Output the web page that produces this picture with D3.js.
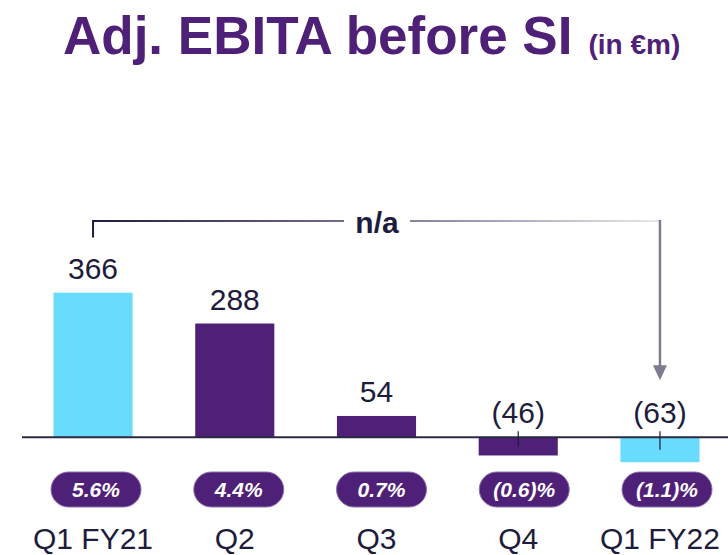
<!DOCTYPE html>
<html>
<head>
<meta charset="utf-8">
<script src="https://cdn.jsdelivr.net/npm/d3@7"></script>
<style>
  html, body { margin: 0; padding: 0; background: #fff; }
  svg { display: block; font-family: "Liberation Sans", Arial, sans-serif; }
</style>
</head>
<body>
<svg id="chart" width="728" height="555"></svg>
<script>
// data
const categories = ["Q1 FY21", "Q2", "Q3", "Q4", "Q1 FY22"];
const values = [366, 288, 54, -46, -63];
const valueLabels = ["366", "288", "54", "(46)", "(63)"];
const marginLabels = ["5.6%", "4.4%", "0.7%", "(0.6)%", "(1.1)%"];
const comparison = ["Q1 FY21", "Q1 FY22", "n/a"];

const purple = "#4f2077",
      cyan = "#69dcfe",
      ink = "#1e1c3c";

const svg = d3.select("#chart");
const data = categories.map((c, i) => ({
  cat: c, value: values[i], label: valueLabels[i], margin: marginLabels[i]
}));

const x = d3.scaleBand()
    .domain(categories)
    .range([53.5, 699.5])
    .paddingInner(0.442)
    .paddingOuter(0);
const xPill = d3.scalePoint()
    .domain(categories)
    .range([96, 667]);
const y = d3.scaleLinear()
    .domain([0, d3.max(values)])
    .range([437.3, 292.7]);

const cx = d => x(d) + x.bandwidth() / 2;
const barColor = d => d.cat.startsWith("Q1") ? cyan : purple;

// title
const title = svg.append("text")
    .attr("x", 63)
    .attr("y", 54)
    .attr("fill", purple)
    .attr("font-weight", "bold");
title.append("tspan")
    .attr("font-size", 53)
    .text("Adj. EBITA before SI");
title.append("tspan")
    .attr("font-size", 28)
    .attr("dx", 16)
    .text("(in €m)");

// bars
svg.append("g").selectAll("rect")
  .data(data)
  .join("rect")
    .attr("x", d => x(d.cat))
    .attr("y", d => y(Math.max(0, d.value)))
    .attr("width", x.bandwidth())
    .attr("height", d => Math.abs(y(d.value) - y(0)))
    .attr("fill", barColor);

// zero line
svg.append("line")
    .attr("x1", 22)
    .attr("x2", 728)
    .attr("y1", y(0))
    .attr("y2", y(0))
    .attr("stroke", "#2b2940")
    .attr("stroke-width", 2);

// small leaders on negative bars
svg.append("g").selectAll("line")
  .data(data.filter(d => d.value < 0))
  .join("line")
    .attr("x1", d => cx(d.cat))
    .attr("x2", d => cx(d.cat))
    .attr("y1", y(0) - 6)
    .attr("y2", d => (y(0) + y(d.value)) / 2)
    .attr("stroke", ink)
    .attr("stroke-width", 1.2);

// value labels
svg.append("g").selectAll("text")
  .data(data)
  .join("text")
    .attr("x", d => cx(d.cat))
    .attr("y", d => y(Math.max(0, d.value)) - 14)
    .attr("text-anchor", "middle")
    .attr("font-size", 30)
    .attr("fill", ink)
    .text(d => d.label);

// margin pills
const pills = svg.append("g").selectAll("g")
  .data(data)
  .join("g")
    .attr("transform", d => `translate(${xPill(d.cat)},489.5)`);
pills.append("rect")
    .attr("x", -45)
    .attr("y", -17.5)
    .attr("width", 90)
    .attr("height", 35)
    .attr("rx", 17.5)
    .attr("fill", purple)
    .attr("stroke", "#8d72ab")
    .attr("stroke-width", 1);
pills.append("text")
    .attr("y", 7)
    .attr("text-anchor", "middle")
    .attr("font-size", 21)
    .attr("font-weight", "bold")
    .attr("font-style", "italic")
    .attr("fill", "#fff")
    .text(d => d.margin);

// category labels
svg.append("g").selectAll("text")
  .data(data)
  .join("text")
    .attr("x", d => cx(d.cat))
    .attr("y", 549)
    .attr("text-anchor", "middle")
    .attr("font-size", 30)
    .attr("fill", ink)
    .text(d => d.cat);

// comparison bracket
const x0 = cx(comparison[0]),
      x1 = cx(comparison[1]),
      yTop = 221,
      tipY = y(0) - 57;

const grad = svg.append("defs").append("linearGradient")
    .attr("id", "fade")
    .attr("gradientUnits", "userSpaceOnUse")
    .attr("x1", x0).attr("x2", x1)
    .attr("y1", 0).attr("y2", 0);
grad.append("stop").attr("offset", 0).attr("stop-color", "#1f1d45");
grad.append("stop").attr("offset", 0.6).attr("stop-color", "#8d8ba3");
grad.append("stop").attr("offset", 1).attr("stop-color", "#e8e8ee");

const mid = 377,
    gap = 33;
svg.append("path")
    .attr("d", `M${x0},237.5 V${yTop} H${mid - gap}`)
    .attr("fill", "none")
    .attr("stroke", "url(#fade)")
    .attr("stroke-width", 2);
svg.append("path")
    .attr("d", `M${mid + gap},${yTop} H${x1}`)
    .attr("fill", "none")
    .attr("stroke", "url(#fade)")
    .attr("stroke-width", 2);
svg.append("line")
    .attr("x1", x1).attr("x2", x1)
    .attr("y1", yTop - 1).attr("y2", tipY - 12)
    .attr("stroke", "#7d7b90")
    .attr("stroke-width", 2.5);
svg.append("path")
    .attr("d", `M${x1 - 7},${tipY - 15} L${x1 + 7},${tipY - 15} L${x1},${tipY} Z`)
    .attr("fill", "#7d7b90");

svg.append("text")
    .attr("x", mid)
    .attr("y", 233)
    .attr("text-anchor", "middle")
    .attr("font-size", 30)
    .attr("font-weight", "bold")
    .attr("fill", ink)
    .text(comparison[2]);
</script>
</body>
</html>
